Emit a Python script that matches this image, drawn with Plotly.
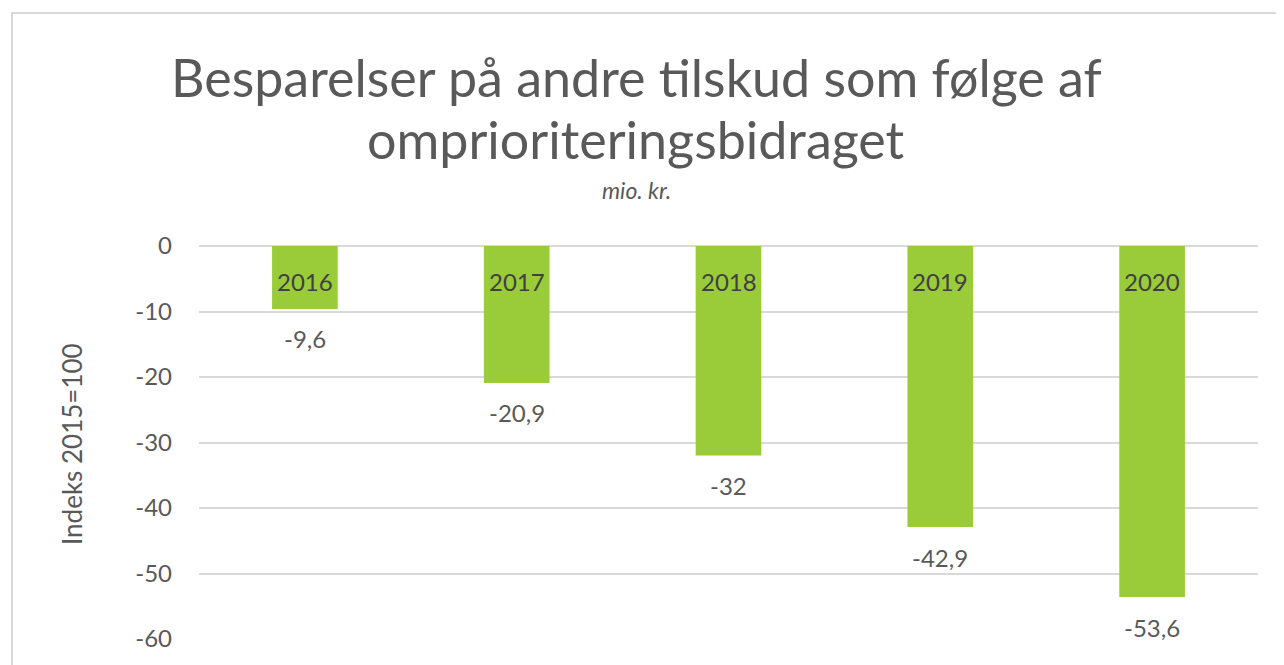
import plotly.graph_objects as go

years = ["2016", "2017", "2018", "2019", "2020"]
values = [-9.6, -20.9, -32, -42.9, -53.6]
y_ticks = [0, -10, -20, -30, -40, -50, -60]

title_line1 = "Besparelser på andre tilskud som følge af"
title_line2 = "omprioriteringsbidraget"
subtitle = "mio. kr."
y_title = "Indeks 2015=100"

FONT = "Lato"
GRAY = "#595959"
DARK = "#404040"
GREEN = "#9ACB38"
OFF = 8  # page body margin

def fmt(v):
    return ("%g" % v).replace(".", ",")

idx = list(range(len(years)))

fig = go.Figure()
fig.add_trace(go.Bar(
    x=idx, y=values, width=0.31,
    marker=dict(color=GREEN, line=dict(width=0)),
    hoverinfo="skip",
))

W, H = 1284 - OFF, 665 - OFF
L = 199 - OFF
T = 246 - OFF
R = W - (1258 - OFF)
B = H - (639 - OFF)
pw, ph = W - L - R, H - T - B

def py(pix):
    return 1 + ((T + OFF) - pix) / ph
def px(pix):
    return (pix - (L + OFF)) / pw

annotations = []
for i, yr in zip(idx, years):
    annotations.append(dict(x=i, y=0, xref="x", yref="y", text=yr, showarrow=False,
                            yanchor="middle", yshift=-35,
                            font=dict(family=FONT, size=24, color=DARK)))
for i, v in zip(idx, values):
    annotations.append(dict(x=i, y=v, xref="x", yref="y", text=fmt(v), showarrow=False,
                            yanchor="middle", yshift=-30,
                            font=dict(family=FONT, size=24, color=GRAY)))
annotations.append(dict(x=px(636), y=py(77), xref="paper", yref="paper", text=title_line1,
                        showarrow=False, xanchor="center", yanchor="middle",
                        font=dict(family=FONT, size=52, color=GRAY)))
annotations.append(dict(x=px(636), y=py(139), xref="paper", yref="paper", text=title_line2,
                        showarrow=False, xanchor="center", yanchor="middle",
                        font=dict(family=FONT, size=52, color=GRAY)))
annotations.append(dict(x=px(636), y=py(190), xref="paper", yref="paper",
                        text="<i>" + subtitle + "</i>",
                        showarrow=False, xanchor="center", yanchor="middle",
                        font=dict(family=FONT, size=23, color=GRAY)))
annotations.append(dict(x=px(72), y=py(444), xref="paper", yref="paper", text=y_title,
                        showarrow=False, xanchor="center", yanchor="middle", textangle=-90,
                        font=dict(family=FONT, size=26, color=GRAY)))

shapes = [dict(type="rect", xref="paper", yref="paper",
               x0=px(12), x1=px(1300), y0=py(13), y1=py(700),
               line=dict(color="#d9d9d9", width=2), fillcolor="rgba(0,0,0,0)", layer="below")]

fig.update_layout(
    width=W, height=H,
    margin=dict(l=L, r=R, t=T, b=B, autoexpand=False),
    paper_bgcolor="white", plot_bgcolor="white",
    showlegend=False,
    annotations=annotations,
    shapes=shapes,
    xaxis=dict(range=[-0.5, len(years) - 0.5], showticklabels=False, showgrid=False,
               zeroline=False, showline=False, ticks="", fixedrange=True),
    yaxis=dict(range=[-60, 0], tickvals=y_ticks, ticktext=[str(t) for t in y_ticks],
               showgrid=True, gridcolor="#d9d9d9", gridwidth=2,
               zeroline=True, zerolinecolor="#d9d9d9", zerolinewidth=2,
               showline=False, ticks="", ticklabelstandoff=26, automargin=False,
               tickfont=dict(family=FONT, size=24, color=GRAY)),
)

fig.write_html("out.html")
